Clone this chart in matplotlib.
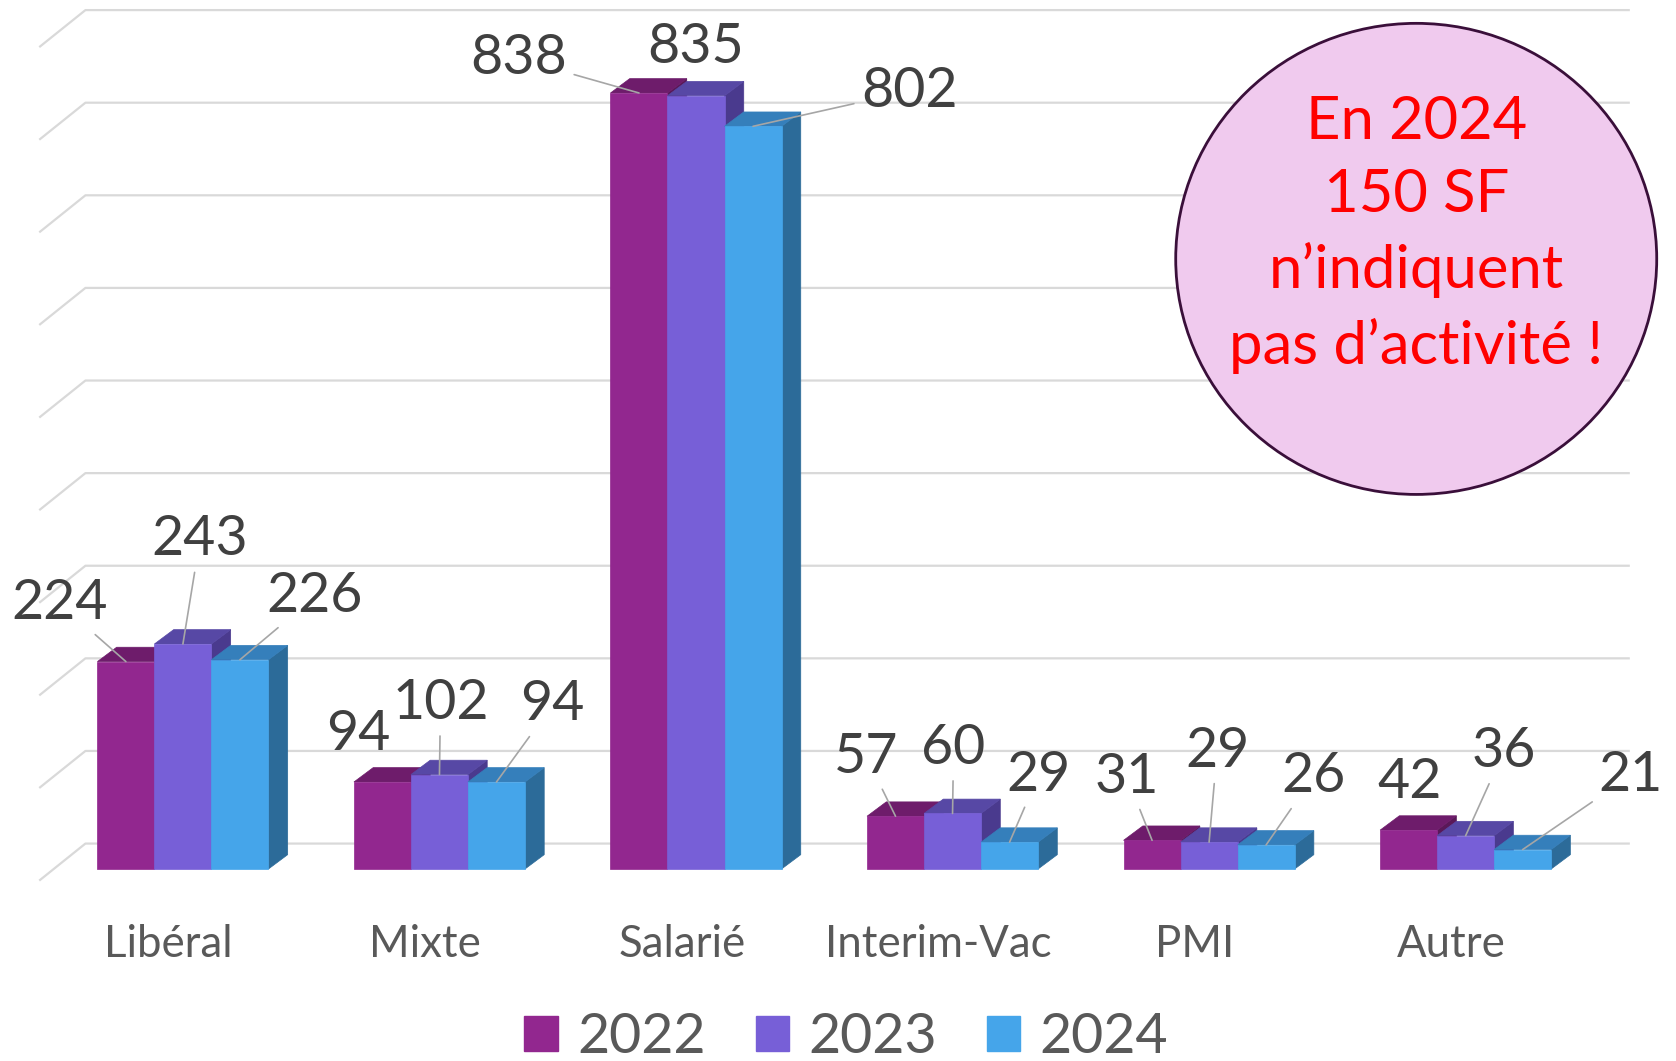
import matplotlib.pyplot as plt
from matplotlib.patches import Ellipse, Patch, Polygon

plt.rcParams["font.family"] = ["Lato", "DejaVu Sans"]

CATEGORIES = ["Libéral", "Mixte", "Salarié", "Interim-Vac", "PMI", "Autre"]
YEARS = ["2022", "2023", "2024"]
VALUES_2022 = [224, 94, 838, 57, 31, 42]
VALUES_2023 = [243, 102, 835, 60, 29, 36]
VALUES_2024 = [226, 94, 802, 29, 26, 21]
NOTE_LINES = ["En 2024", "150 SF", "n\u2019indiquent", "pas d\u2019activit\u00e9 !"]

FRONT = ["#92278F", "#775FD7", "#45A5EA"]
TOP = ["#6E1C6B", "#5748A5", "#357FBB"]
SIDE = ["#5A1858", "#4A3A8E", "#2C6B99"]
GRID = "#D9D9D9"
TEXT = "#404040"
LEADER = "#A6A6A6"

# label offsets from the bar top (pixels), one row per year; flag = draw leader line
LABEL_OFFSETS = [
    [(-66, 58, True), (-24, 47, False), (-120, 34, True), (-29, 59, True), (-25, 63, True), (1, 48, False)],
    [(17, 104, True), (1, 71, True), (0, 48, False), (1, 65, True), (8, 91, True), (38, 84, True)],
    [(75, 63, True), (56, 77, True), (156, 35, True), (29, 67, True), (47, 68, True), (108, 74, True)],
]

BAR_W = 2 / 9
DX, DY = 0.075, 15.5          # bar depth (x units, value units)
WALL, DIAG = 27.5, 40.0       # back wall offset and side-wall diagonal
X_FRONT, X_WALL, X_RIGHT = -0.56, -0.38, 5.64

fig = plt.figure(figsize=(16.76, 10.61), dpi=100)
ax = fig.add_axes([0, 0, 1, 1])
ax.set_xlim(-0.713, 5.82)
ax.set_ylim(-207.3, 938.4)
ax.axis("off")

# gridlines with the 3D side wall
for v in range(0, 1000, 100):
    ax.plot([X_FRONT, X_WALL, X_RIGHT], [v + WALL - DIAG, v + WALL, v + WALL],
            color=GRID, lw=1.6, zorder=1, solid_capstyle="butt")

series = [VALUES_2022, VALUES_2023, VALUES_2024]
xs = list(range(len(CATEGORIES)))
z = 2.0
bars = []
for j, vals in enumerate(series):
    pos = [x + (j - 1) * BAR_W for x in xs]
    bars.append(ax.bar(pos, vals, width=BAR_W, color=FRONT[j], edgecolor=FRONT[j], lw=0.5))

for i in xs:
    for j in range(3):
        patch = bars[j].patches[i]
        xl = patch.get_x()
        xr = xl + patch.get_width()
        h = patch.get_height()
        side = Polygon([(xr, 0), (xr + DX, DY), (xr + DX, h + DY), (xr, h)],
                       closed=True, fc=SIDE[j], ec=SIDE[j], lw=0.5, zorder=z)
        top = Polygon([(xl, h), (xl + DX, h + DY), (xr + DX, h + DY), (xr, h)],
                      closed=True, fc=TOP[j], ec=TOP[j], lw=0.5, zorder=z + 0.01)
        ax.add_patch(side)
        ax.add_patch(top)
        patch.set_zorder(z + 0.02)
        z += 0.05

# data labels
for j, vals in enumerate(series):
    for i, v in enumerate(vals):
        patch = bars[j].patches[i]
        xc = patch.get_x() + patch.get_width() / 2
        ox, oy, lead = LABEL_OFFSETS[j][i]
        kw = {}
        if lead:
            kw["arrowprops"] = dict(arrowstyle="-", color=LEADER, lw=1.2, shrinkA=3, shrinkB=0)
        ax.annotate(str(v), xy=(xc, v), xytext=(ox * 0.72, oy * 0.72), textcoords="offset points",
                    ha="center", va="center", fontsize=40, color=TEXT, zorder=10, **kw)

# category labels
for i, cat in enumerate(CATEGORIES):
    ax.text(i - 0.055, -82, cat, ha="center", va="center", fontsize=31.5, color="#595959")

# note bubble
ell = Ellipse((0.845, 0.756), 0.287, 0.444, transform=fig.transFigure,
              fc="#F0CAEE", ec="#3A0F3A", lw=2, zorder=5)
fig.patches.append(ell)
fig.text(0.845, 0.779, "\n".join(NOTE_LINES), ha="center", va="center", fontsize=43,
         color="#FF0000", linespacing=1.43, zorder=6)

handles = [Patch(facecolor=c, edgecolor=c, label=y) for c, y in zip(FRONT, YEARS)]
fig.legend(handles=handles, loc="center", bbox_to_anchor=(0.505, 0.022), ncol=3, frameon=False,
           fontsize=40, handlelength=0.6, handleheight=0.6, handletextpad=0.35,
           columnspacing=0.9, labelcolor="#595959")

fig.savefig("out.png", dpi=100)
